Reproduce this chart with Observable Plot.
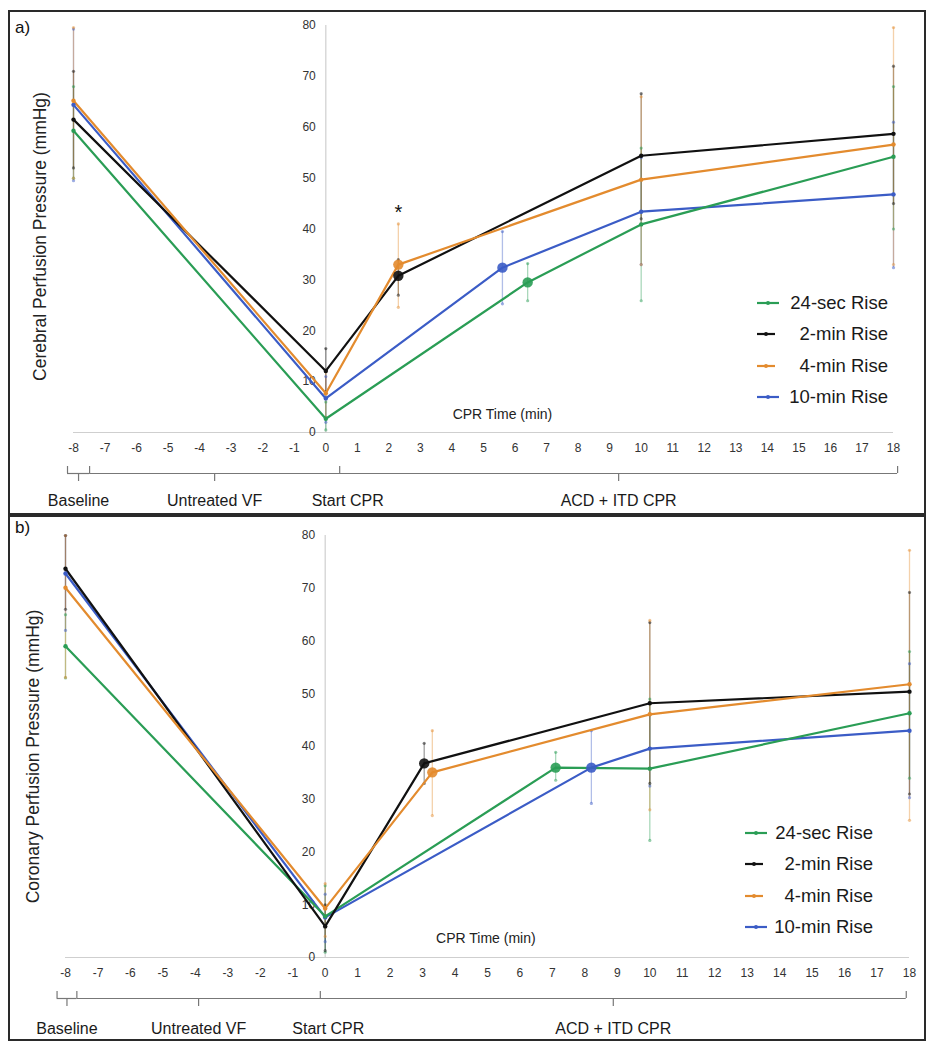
<!DOCTYPE html>
<html><head><meta charset="utf-8">
<script src="https://cdn.jsdelivr.net/npm/d3@7"></script>
<script src="https://cdn.jsdelivr.net/npm/@observablehq/plot@0.6"></script>
<style>
body{margin:0;background:#fff;font-family:"Liberation Sans",Arial,sans-serif;}
.panel{position:absolute;left:8px;width:914px;border:2px solid #2a2a2a;background:#fff;}
.tag{position:absolute;font-size:17px;color:#111;line-height:20px;}
.legend{position:absolute;font-size:18.5px;color:#1a1a1a;}
.legend .row{display:flex;align-items:center;height:31.3px;}
.legend .txt{flex:1;text-align:right;white-space:pre;}
.legend svg{display:block;}
</style></head><body>
<div id="pa" class="panel" style="top:10px;height:501px;"></div>
<div id="pb" class="panel" style="top:515px;height:522px;"></div>
<script>
// ---------- data ----------
const seriesNames = ["24-sec Rise", "2-min Rise", "4-min Rise", "10-min Rise"];
const seriesColors = ["#2a9d55", "#111111", "#e38b2e", "#3b5cc6"];
const legendLabels = ["24-sec Rise", " 2-min Rise", " 4-min Rise", "10-min Rise"];
const xTickLabels = [-8,-7,-6,-5,-4,-3,-2,-1,0,1,2,3,4,5,6,7,8,9,10,11,12,13,14,15,16,17,18];
const yTickLabels = [0,10,20,30,40,50,60,70,80];
const phaseNames = ["Baseline", "Untreated VF", "ACD + ITD CPR"];
const startLabel = "Start CPR";
const xTitle = "CPR Time (min)";

// a) Cerebral perfusion pressure (mmHg); series order as seriesNames
const cerTimes = [[-8,0,6.4,10,18],[-8,0,2.3,10,18],[-8,0,2.3,10,18],[-8,0,5.6,10,18]];
const cerMeans = [[59.3,2.7,29.5,40.9,54.2],[61.5,12.1,30.8,54.4,58.7],[65.2,7.7,33.0,49.7,56.6],[64.4,6.7,32.4,43.4,46.8]];
const cerLow   = [[50,0.5,25.9,25.9,40],[52,8,27,42,45],[50,3,24.6,33,33],[49.5,2,25.3,33,32.4]];
const cerHigh  = [[68,6,33.2,55.9,68],[71,16.5,34,66.6,72],[79.6,12,41,66,79.6],[79.3,11,39.5,54,61]];
const cerPhaseBounds = [-8.19, -7.49, 0.44, 18.13];

// b) Coronary perfusion pressure (mmHg)
const corTimes = [[-8,0,7.1,10,18],[-8,0,3.05,10,18],[-8,0,3.3,10,18],[-8,0,8.2,10,18]];
const corMeans = [[59.0,7.8,36.0,35.8,46.3],[73.7,5.9,36.8,48.2,50.4],[70.1,9.3,35.1,46.1,51.8],[72.8,7.6,36.0,39.6,43.0]];
const corLow   = [[53,1,33.6,22.2,34],[66,1.3,33,33,31],[53.1,4,26.9,28,26],[62,3,29.2,32.5,30.3]];
const corHigh  = [[65,13.6,38.9,49,58],[80,10,40.6,63.5,69.2],[80,14,43,63.9,77.2],[80,12,43,46,55.7]];
const corPhaseBounds = [-8.26, -7.65, -0.15, 17.9];

// ---------- drawing ----------
const drawOrder = [3, 0, 1, 2];
function toRows(times, means, lows, highs) {
  return drawOrder.flatMap(i => times[i].map((t, j) => ({
    series: seriesNames[i], t, v: means[i][j], lo: lows[i][j], hi: highs[i][j], big: j === 2
  })));
}

function panel(cfg) {
  const {el, height, mt, mb, ml, mr, rows, bounds, yLabel, yLabDx, yLabDy, titlePos, labGap, star} = cfg;
  const plotH = height - mt - mb;
  const u = 80 / plotH;
  const L = -41 * u;
  const segs = [{a: bounds[0], b: bounds[1]}, {a: bounds[1], b: bounds[3]}];
  const centers = [(bounds[0]+bounds[1])/2, (bounds[1]+bounds[2])/2, (bounds[2]+bounds[3])/2];
  const labs = phaseNames.map((n, i) => ({n, x: centers[i]})).concat([{n: startLabel, x: bounds[2] + 8/ ((cfg.width - ml - mr)/26)}]);
  const marks = [
    Plot.ruleX([0], {y1: () => 0, y2: () => 80, stroke: "#cfcfcf", strokeWidth: 1.2}),
    Plot.ruleY([0], {x1: () => -8, x2: () => 18, stroke: "#cfcfcf", strokeWidth: 1.2}),
    Plot.text(yTickLabels, {x: () => 0, y: d => d, dx: -10, textAnchor: "end", fontSize: 12, fill: "#333"}),
    Plot.text(xTickLabels, {x: d => d, y: () => 0, dy: 16, fontSize: 12, fill: "#333", text: d => String(d)}),
    // phase brackets
    Plot.ruleY(segs, {y: () => L, x1: "a", x2: "b", stroke: "#777", strokeWidth: 1.2}),
    Plot.ruleX(bounds, {x: d => d, y1: () => L, y2: () => L + 7*u, stroke: "#777", strokeWidth: 1.2}),
    Plot.ruleX(centers, {x: d => d, y1: () => L, y2: () => L - 8*u, stroke: "#777", strokeWidth: 1.2}),
    Plot.text(labs, {x: "x", y: () => -labGap*u, text: "n", fontSize: 16, fill: "#1a1a1a"}),
    Plot.text([xTitle], {x: () => titlePos[0], y: () => titlePos[1], fontSize: 14, fill: "#222"}),
    Plot.text([yLabel], {frameAnchor: "left", textAnchor: "middle", rotate: -90, dx: yLabDx, dy: yLabDy, fontSize: 17.5, fill: "#222"}),
    // error bars
    Plot.ruleX(rows, {x: "t", y1: "lo", y2: "hi", stroke: "series", strokeOpacity: 0.4, strokeWidth: 1.3}),
    Plot.dot(rows, {x: "t", y: "lo", r: 1.6, fill: "series", fillOpacity: 0.5}),
    Plot.dot(rows, {x: "t", y: "hi", r: 1.6, fill: "series", fillOpacity: 0.5}),
    // means
    Plot.line(rows, {x: "t", y: "v", z: "series", stroke: "series", strokeWidth: 2.2}),
    Plot.dot(rows.filter(d => !d.big), {x: "t", y: "v", r: 2.2, fill: "series"}),
    Plot.dot(rows.filter(d => d.big), {x: "t", y: "v", r: 5.2, fill: "series", fillOpacity: 0.9})
  ];
  if (star) {
    marks.push(Plot.text(rows.filter(d => d.series === star && d.big), {x: "t", y: "hi", text: () => "*", dy: -11, fontSize: 20, fill: "#111"}));
  }
  const svg = Plot.plot({
    width: cfg.width, height, marginTop: mt, marginBottom: mb, marginLeft: ml, marginRight: mr,
    x: {domain: [-8, 18], axis: null},
    y: {domain: [0, 80], axis: null},
    color: {domain: seriesNames, range: seriesColors},
    style: {fontFamily: "'Liberation Sans', Arial, sans-serif", background: "white", overflow: "visible"},
    marks
  });
  document.getElementById(el).appendChild(svg);
}

panel({el: "pa", width: 914, height: 501, mt: 13, mb: 81, ml: 63, mr: 31,
  rows: toRows(cerTimes, cerMeans, cerLow, cerHigh), bounds: cerPhaseBounds,
  yLabel: "Cerebral Perfusion Pressure (mmHg)", yLabDx: -33, yLabDy: 7.5,
  titlePos: [5.6, 3.5], labGap: 68, star: "4-min Rise"});
panel({el: "pb", width: 914, height: 522, mt: 18, mb: 82, ml: 55, mr: 15,
  rows: toRows(corTimes, corMeans, corLow, corHigh), bounds: corPhaseBounds,
  yLabel: "Coronary Perfusion Pressure (mmHg)", yLabDx: -32, yLabDy: 10,
  titlePos: [4.95, 3.6], labGap: 71, star: null});

// panel tags and legends
function tag(text, left, top) {
  const d = document.createElement("div");
  d.className = "tag"; d.textContent = text;
  d.style.left = left + "px"; d.style.top = top + "px";
  document.body.appendChild(d);
}
tag("a)", 15, 18);
tag("b)", 15, 518);

function legend(left, firstRowCenter, right) {
  const box = document.createElement("div");
  box.className = "legend";
  box.style.left = left + "px";
  box.style.top = (firstRowCenter - 15.65) + "px";
  box.style.width = (right - left) + "px";
  seriesNames.forEach((s, i) => {
    const row = document.createElement("div");
    row.className = "row";
    const sw = d3.create("svg").attr("width", 23).attr("height", 10);
    const len = legendLabels[i].startsWith(" ") ? 18 : 22;
    sw.append("line").attr("x1", 0).attr("x2", len).attr("y1", 5).attr("y2", 5)
      .attr("stroke", seriesColors[i]).attr("stroke-width", 2.2);
    sw.append("circle").attr("cx", len/2).attr("cy", 5).attr("r", 2).attr("fill", seriesColors[i]);
    row.appendChild(sw.node());
    const t = document.createElement("div");
    t.className = "txt"; t.textContent = legendLabels[i];
    row.appendChild(t);
    box.appendChild(row);
  });
  document.body.appendChild(box);
}
legend(757, 303, 888);
legend(745, 833, 873);
</script>
</body></html>
